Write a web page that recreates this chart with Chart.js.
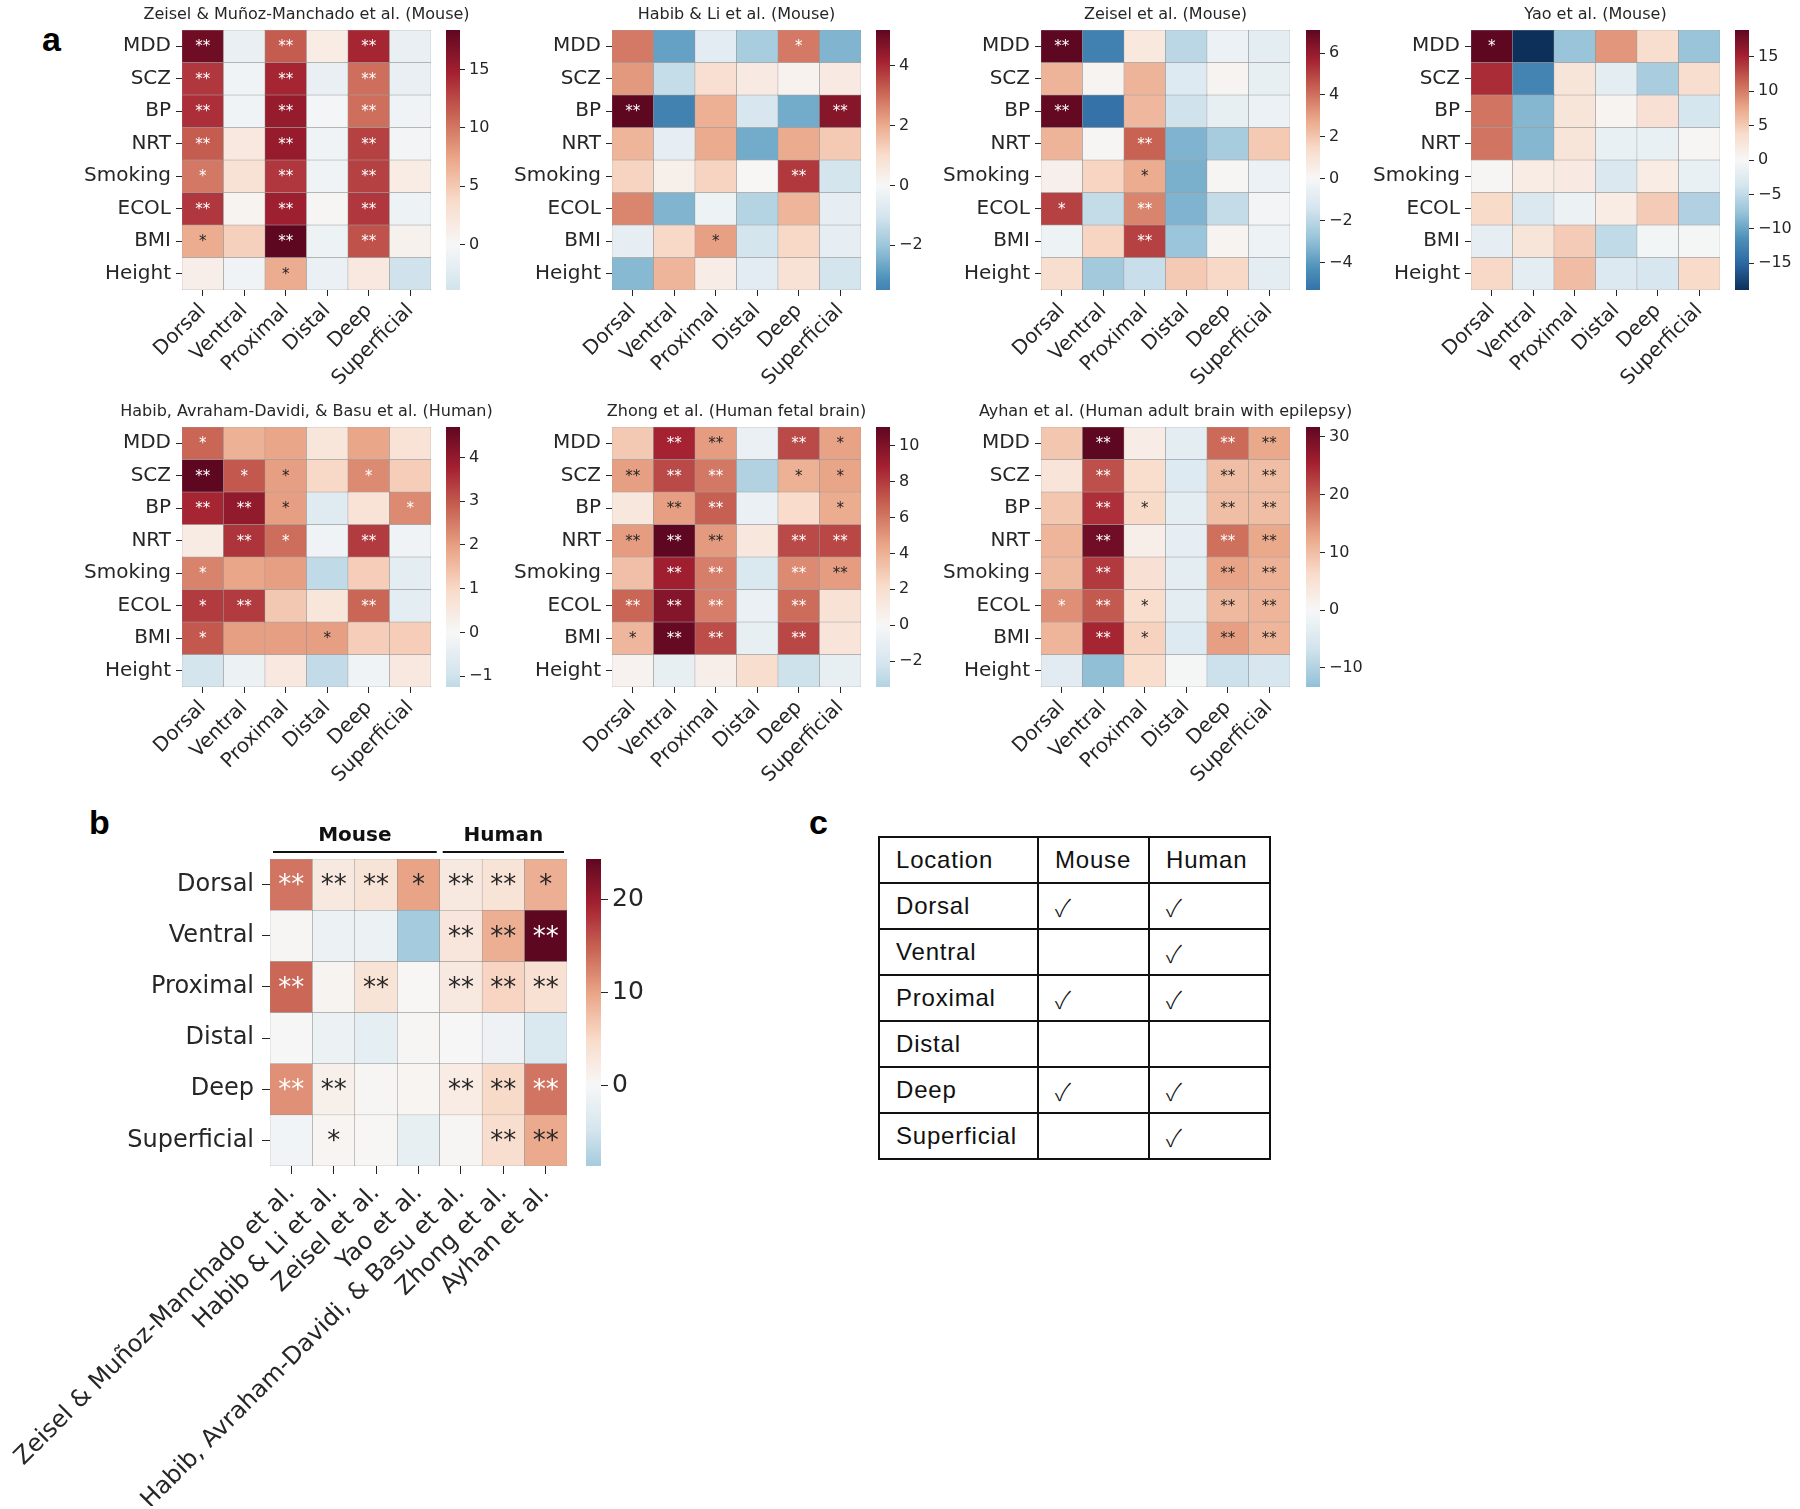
<!DOCTYPE html>
<html>
<head>
<meta charset="utf-8">
<script src="https://cdn.jsdelivr.net/npm/chart.js@4.4.1/dist/chart.umd.min.js"></script>
<style>
  html, body { margin: 0; padding: 0; background: #fff; }
  body { width: 1800px; height: 1509px; position: relative; overflow: hidden; }
  canvas { position: absolute; }
  .letter { position: absolute; font-family: 'Liberation Sans', Arial, sans-serif; font-weight: bold; font-size: 34px; line-height: 1; color: #000; }
  #locTable { position: absolute; left: 878px; top: 836px; border-collapse: collapse; font-family: 'Liberation Sans', Arial, sans-serif; font-size: 24px; letter-spacing: 0.8px; color: #111; }
  #locTable td { border: 2px solid #111; height: 44px; padding: 0 0 0 16px; vertical-align: middle; }
  #locTable .chk { font-family: 'Noto Sans CJK JP', 'DejaVu Sans', sans-serif; font-weight: 300; font-size: 24px; letter-spacing: 0; }
</style>
</head>
<body>
<div class="letter" style="left:42px; top:22px;">a</div>
<div class="letter" style="left:89px; top:805px;">b</div>
<div class="letter" style="left:809px; top:805px;">c</div>
<table id="locTable"></table>
<script>
// ---- data ----
const traits = ['MDD', 'SCZ', 'BP', 'NRT', 'Smoking', 'ECOL', 'BMI', 'Height'];
const locations = ['Dorsal', 'Ventral', 'Proximal', 'Distal', 'Deep', 'Superficial'];

// panel a, one matrix per dataset (rows = traits, cols = locations)
const zeiselMMValues = [
    [17.5, -1.5, 11.5, 1.5, 14.5, -1.5],
    [13.5, -0.8, 14.5, -1.5, 10.5, -1.5],
    [14.0, -0.8, 15.5, -0.3, 10.5, -0.8],
    [11.5, 2.0, 15.5, -0.8, 13.0, -0.5],
    [10.0, 2.8, 13.5, -0.8, 13.0, 1.5],
    [13.5, 0.5, 15.0, 0.3, 13.5, -1.0],
    [7.0, 4.5, 18.4, -1.0, 12.0, 0.8],
    [1.2, -0.8, 7.0, -1.3, 2.0, -3.9]
];
const zeiselMMStars = [
    ['**', '', '**', '', '**', ''],
    ['**', '', '**', '', '**', ''],
    ['**', '', '**', '', '**', ''],
    ['**', '', '**', '', '**', ''],
    ['*', '', '**', '', '**', ''],
    ['**', '', '**', '', '**', ''],
    ['*', '', '**', '', '**', ''],
    ['', '', '*', '', '', '']
];

const habibLiValues = [
    [2.8, -2.8, -0.6, -1.8, 2.8, -2.4],
    [2.3, -1.3, 0.9, 0.5, 0.2, 0.5],
    [5.2, -3.5, 1.9, -0.9, -2.6, 4.6],
    [1.8, -0.5, 2.0, -2.6, 2.0, 1.4],
    [1.2, 0.3, 1.2, 0.05, 3.8, -1.0],
    [2.6, -2.4, -0.3, -1.6, 1.8, -0.5],
    [-0.5, 1.1, 2.2, -1.0, 1.1, -0.5],
    [-2.3, 1.8, 0.4, -0.6, 0.8, -1.0]
];
const habibLiStars = [
    ['', '', '', '', '*', ''],
    ['', '', '', '', '', ''],
    ['**', '', '', '', '', '**'],
    ['', '', '', '', '', ''],
    ['', '', '', '', '**', ''],
    ['', '', '', '', '', ''],
    ['', '', '*', '', '', ''],
    ['', '', '', '', '', '']
];

const zeiselValues = [
    [7.1, -4.8, 0.8, -2.0, -0.5, -0.8],
    [2.5, 0.2, 2.5, -1.0, 0.2, -0.6],
    [7.0, -5.3, 2.4, -1.5, -0.6, -0.5],
    [2.5, 0.1, 4.3, -3.3, -2.5, 1.9],
    [0.4, 1.6, 2.7, -3.4, 0.1, -0.5],
    [5.0, -1.8, 3.6, -3.3, -1.8, -0.2],
    [-0.4, 1.6, 5.0, -2.8, 0.2, -0.4],
    [1.3, -2.6, -1.7, 1.9, 1.5, -0.8]
];
const zeiselStars = [
    ['**', '', '', '', '', ''],
    ['', '', '', '', '', ''],
    ['**', '', '', '', '', ''],
    ['', '', '**', '', '', ''],
    ['', '', '*', '', '', ''],
    ['*', '', '**', '', '', ''],
    ['', '', '**', '', '', ''],
    ['', '', '', '', '', '']
];

const yaoValues = [
    [18.9, -18.9, -7.5, 8.5, 3.5, -7.5],
    [14.5, -12.5, 2.5, -2.0, -6.5, 3.5],
    [10.5, -8.5, 2.5, 0.5, 3.0, -3.5],
    [10.5, -8.5, 2.5, -1.5, -1.5, 0.3],
    [0.3, 1.5, 1.8, -3.0, 1.5, -1.5],
    [3.8, -3.0, -1.2, 1.5, 5.0, -6.0],
    [-1.8, 2.5, 5.0, -5.0, -0.5, -0.3],
    [4.0, -2.0, 6.0, -2.8, -3.3, 3.8]
];
const yaoStars = [
    ['*', '', '', '', '', ''],
    ['', '', '', '', '', ''],
    ['', '', '', '', '', ''],
    ['', '', '', '', '', ''],
    ['', '', '', '', '', ''],
    ['', '', '', '', '', ''],
    ['', '', '', '', '', ''],
    ['', '', '', '', '', '']
];

const habibADValues = [
    [2.8, 1.7, 1.9, 0.6, 1.9, 0.7],
    [4.7, 3.0, 2.0, 1.0, 2.3, 1.2],
    [3.7, 4.0, 2.0, -0.6, 0.7, 2.3],
    [0.4, 3.5, 2.7, -0.2, 3.4, -0.2],
    [2.4, 1.9, 2.0, -1.25, 1.2, -0.5],
    [3.4, 3.4, 1.3, 0.6, 2.8, -0.5],
    [3.0, 2.0, 2.0, 2.0, 1.2, 1.2],
    [-0.9, -0.3, 0.5, -1.2, -0.2, 0.5]
];
const habibADStars = [
    ['*', '', '', '', '', ''],
    ['**', '*', '*', '', '*', ''],
    ['**', '**', '*', '', '', '*'],
    ['', '**', '*', '', '**', ''],
    ['*', '', '', '', '', ''],
    ['*', '**', '', '', '**', ''],
    ['*', '', '', '*', '', ''],
    ['', '', '', '', '', '']
];

const zhongValues = [
    [3.0, 8.8, 4.8, -0.8, 7.5, 4.6],
    [4.7, 7.5, 6.0, -3.45, 4.0, 4.5],
    [1.3, 4.7, 6.8, -0.8, 2.2, 4.2],
    [4.8, 11.05, 4.85, 1.3, 7.5, 7.6],
    [3.4, 9.0, 5.8, -1.8, 5.4, 4.8],
    [6.6, 9.8, 5.8, -0.8, 6.4, 1.7],
    [3.8, 10.8, 7.4, -1.0, 7.6, 1.5],
    [0.4, -1.0, 0.7, 2.0, -2.4, -1.0]
];
const zhongStars = [
    ['', '**', '**', '', '**', '*'],
    ['**', '**', '**', '', '*', '*'],
    ['', '**', '**', '', '', '*'],
    ['**', '**', '**', '', '**', '**'],
    ['', '**', '**', '', '**', '**'],
    ['**', '**', '**', '', '**', ''],
    ['*', '**', '**', '', '**', ''],
    ['', '', '', '', '', '']
];

const ayhanValues = [
    [9.0, 31.7, 2.5, -3.5, 18.5, 12.5],
    [4.5, 21.0, 6.0, -4.5, 10.0, 10.0],
    [9.0, 24.0, 6.5, -3.5, 10.0, 10.0],
    [11.0, 30.0, 2.0, -3.0, 18.0, 12.5],
    [10.5, 23.0, 5.0, -3.5, 13.0, 11.5],
    [15.0, 20.0, 6.0, -3.5, 10.5, 11.0],
    [11.0, 25.0, 7.5, -4.5, 13.5, 11.0],
    [-4.0, -13.3, 6.0, -0.5, -7.0, -5.5]
];
const ayhanStars = [
    ['', '**', '', '', '**', '**'],
    ['', '**', '', '', '**', '**'],
    ['', '**', '*', '', '**', '**'],
    ['', '**', '', '', '**', '**'],
    ['', '**', '', '', '**', '**'],
    ['*', '**', '*', '', '**', '**'],
    ['', '**', '*', '', '**', '**'],
    ['', '', '', '', '', '']
];

// panel b (rows = locations, cols = datasets)
const datasetNames = [
    'Zeisel & Muñoz-Manchado et al.',
    'Habib & Li et al.',
    'Zeisel et al.',
    'Yao et al.',
    'Habib, Avraham-Davidi, & Basu et al.',
    'Zhong et al.',
    'Ayhan et al.'
];
const datasetSpecies = ['Mouse', 'Mouse', 'Mouse', 'Mouse', 'Human', 'Human', 'Human'];
const summaryValues = [
    [13.5, 2.5, 3.5, 10.0, 2.5, 3.5, 9.0],
    [0.3, -1.5, -1.5, -8.7, 3.0, 9.0, 24.4],
    [14.5, 0.8, 3.5, 0.2, 2.5, 5.5, 4.0],
    [0.1, -1.5, -2.5, 0.3, 0.1, -1.2, -4.0],
    [11.5, 1.5, 0.3, 0.5, 2.0, 5.0, 13.5],
    [-0.8, 0.5, 0.2, -2.2, 0.3, 4.5, 9.5]
];
const summaryStars = [
    ['**', '**', '**', '*', '**', '**', '*'],
    ['', '', '', '', '**', '**', '**'],
    ['**', '', '**', '', '**', '**', '**'],
    ['', '', '', '', '', '', ''],
    ['**', '**', '', '', '**', '**', '**'],
    ['', '*', '', '', '', '**', '**']
];

// panel c
const mouseHits = [true, false, true, false, true, false];
const humanHits = [true, true, true, false, true, true];

// ---- colour map (RdBu_r, centred on 0 like seaborn center=0) ----
const RDBU_R = ['#053061', '#2166ac', '#4393c3', '#92c5de', '#d1e5f0', '#f7f7f7',
                '#fddbc7', '#f4a582', '#d6604d', '#b2182b', '#67001f'];
const RDBU_RGB = RDBU_R.map(h => [1, 3, 5].map(i => parseInt(h.slice(i, i + 2), 16)));

function cmapRgb(v, vrange) {
    let t = (v + vrange) / (2 * vrange);
    t = Math.min(1, Math.max(0, t)) * 10;
    const i = Math.min(9, Math.floor(t));
    const f = t - i;
    const a = RDBU_RGB[i], b = RDBU_RGB[i + 1];
    return a.map((c, k) => c + (b[k] - c) * f);
}
// the printed figure is a little washed out, so pull colours slightly toward grey
function shown(c) {
    const m = (c[0] + c[1] + c[2]) / 3;
    const d = c.map(x => Math.round(x * 0.85 + m * 0.15));
    return 'rgb(' + d[0] + ', ' + d[1] + ', ' + d[2] + ')';
}
function luminance(c) {
    const lin = c.map(x => {
        x = x / 255;
        return x <= 0.03928 ? x / 12.92 : Math.pow((x + 0.055) / 1.055, 2.4);
    });
    return 0.2126 * lin[0] + 0.7152 * lin[1] + 0.0722 * lin[2];
}
function minusSign(v) {
    return v < 0 ? '\u2212' + Math.abs(v) : String(Math.abs(v));
}

Chart.defaults.font.family = "'DejaVu Sans', sans-serif";
Chart.defaults.color = '#262626';

// ---- plugins ----
const panelTitle = {
    id: 'panelTitle',
    afterDraw(chart, args, opts) {
        if (!opts.text) return;
        const area = chart.chartArea;
        const ctx = chart.ctx;
        ctx.save();
        ctx.font = opts.font;
        ctx.fillStyle = '#262626';
        ctx.textAlign = 'center';
        ctx.textBaseline = 'middle';
        ctx.fillText(opts.text, (area.left + area.right) / 2, area.top - opts.offset);
        ctx.restore();
    }
};

const starLabels = {
    id: 'starLabels',
    afterDatasetsDraw(chart, args, opts) {
        if (!opts.stars) return;
        const ctx = chart.ctx;
        ctx.save();
        ctx.font = opts.font;
        ctx.textAlign = 'center';
        ctx.textBaseline = 'middle';
        opts.stars.forEach((row, i) => {
            const meta = chart.getDatasetMeta(i);
            row.forEach((s, j) => {
                if (!s) return;
                const bar = meta.data[j];
                const c = cmapRgb(opts.values[i][j], opts.vrange);
                ctx.fillStyle = luminance(c) > 0.408 ? '#262626' : '#ffffff';
                ctx.fillText(s, bar.x, (bar.y + bar.base) / 2 + opts.dy);
            });
        });
        ctx.restore();
    }
};

// Mouse / Human brackets above panel b
const groupBrackets = {
    id: 'groupBrackets',
    afterDraw(chart, args, opts) {
        if (!opts.groups) return;
        const x = chart.scales.x;
        const top = chart.chartArea.top;
        const half = (x.getPixelForTick(1) - x.getPixelForTick(0)) / 2;
        const ctx = chart.ctx;
        let start = 0;
        ctx.save();
        for (let i = 1; i <= opts.groups.length; i++) {
            if (i < opts.groups.length && opts.groups[i] === opts.groups[start]) continue;
            const x0 = x.getPixelForTick(start) - half + 3;
            const x1 = x.getPixelForTick(i - 1) + half - 3;
            ctx.strokeStyle = '#111';
            ctx.lineWidth = 2;
            ctx.beginPath();
            ctx.moveTo(x0, top - 7);
            ctx.lineTo(x1, top - 7);
            ctx.stroke();
            ctx.fillStyle = '#111';
            ctx.font = "bold 20px 'DejaVu Sans'";
            ctx.textAlign = 'center';
            ctx.textBaseline = 'middle';
            ctx.fillText(opts.groups[start], (x0 + x1) / 2, top - 23);
            start = i;
        }
        ctx.restore();
    }
};

function addCanvas(left, top, width, height) {
    const c = document.createElement('canvas');
    c.width = width;
    c.height = height;
    c.style.left = left + 'px';
    c.style.top = top + 'px';
    c.style.width = width + 'px';
    c.style.height = height + 'px';
    document.body.appendChild(c);
    return c;
}

function drawHeatmap(p) {
    const all = p.values.flat();
    const vmin = Math.min(...all);
    const vmax = Math.max(...all);
    const vrange = Math.max(Math.abs(vmin), Math.abs(vmax));

    const canvas = addCanvas(p.left - p.yw - p.padLeft, p.top - p.padTop,
        p.padLeft + p.yw + p.width + p.padRight, p.padTop + p.height + p.xh);

    new Chart(canvas, {
        type: 'bar',
        data: {
            labels: p.cols,
            datasets: p.rows.map((r, i) => ({
                label: r,
                data: p.cols.map(() => 1),
                backgroundColor: p.values[i].map(v => shown(cmapRgb(v, vrange))),
                borderColor: '#8c8c8c',
                borderWidth: 0.5,
                borderSkipped: false,
                barPercentage: 1,
                categoryPercentage: 1
            }))
        },
        options: {
            responsive: false,
            animation: false,
            events: [],
            layout: { padding: { top: p.padTop, right: p.padRight, left: p.padLeft, bottom: 0 } },
            plugins: {
                legend: { display: false },
                tooltip: { enabled: false },
                panelTitle: { text: p.title, font: "16px 'DejaVu Sans'", offset: 15 },
                starLabels: { stars: p.stars, values: p.values, vrange: vrange, font: p.starFont, dy: p.starDy },
                groupBrackets: { groups: p.groups }
            },
            scales: {
                x: {
                    stacked: true,
                    offset: true,
                    grid: { offset: false, drawOnChartArea: false, tickLength: p.tickLen, color: '#262626' },
                    border: { display: false },
                    ticks: { minRotation: 45, maxRotation: 45, autoSkip: false, padding: p.xPad, color: '#262626', font: { size: p.labelSize } },
                    afterFit: s => { s.height = p.xh; s.paddingLeft = 0; s.paddingRight = 0; }
                },
                y: {
                    type: 'linear',
                    stacked: true,
                    min: 0,
                    max: p.rows.length,
                    reverse: true,
                    afterBuildTicks: s => { s.ticks = p.rows.map((_, i) => ({ value: i + 0.5 })); },
                    grid: { drawOnChartArea: false, tickLength: p.tickLen, color: '#262626' },
                    border: { display: false },
                    ticks: { autoSkip: false, padding: p.yPad, color: '#262626', font: { size: p.labelSize }, callback: (v, i) => p.rows[i] },
                    afterFit: s => { s.width = p.yw; s.paddingTop = 0; s.paddingBottom = 0; }
                }
            }
        },
        plugins: [panelTitle, starLabels, groupBrackets]
    });

    drawColorbar(p, vmin, vmax, vrange);
}

function drawColorbar(p, vmin, vmax, vrange) {
    const axisW = 75;
    const canvas = addCanvas(p.cbLeft, p.top - 14, p.cbWidth + axisW, p.height + 28);
    new Chart(canvas, {
        type: 'bar',
        data: {
            labels: [''],
            datasets: [{
                data: [[vmin, vmax]],
                backgroundColor: c => {
                    const area = c.chart.chartArea;
                    if (!area) return '#ffffff';
                    const g = c.chart.ctx.createLinearGradient(0, area.bottom, 0, area.top);
                    for (let k = 0; k <= 60; k++) {
                        g.addColorStop(k / 60, shown(cmapRgb(vmin + (vmax - vmin) * k / 60, vrange)));
                    }
                    return g;
                },
                borderWidth: 0,
                barPercentage: 1,
                categoryPercentage: 1
            }]
        },
        options: {
            responsive: false,
            animation: false,
            events: [],
            layout: { padding: { top: 14, bottom: 14, left: 0, right: 0 } },
            plugins: { legend: { display: false }, tooltip: { enabled: false } },
            scales: {
                x: { display: false },
                y: {
                    position: 'right',
                    min: vmin,
                    max: vmax,
                    afterBuildTicks: s => {
                        const ticks = [];
                        for (let k = Math.ceil(vmin / p.step); k * p.step <= vmax; k++) ticks.push({ value: k * p.step });
                        s.ticks = ticks;
                    },
                    grid: { drawOnChartArea: false, tickLength: p.cbTickLen, color: '#262626' },
                    border: { display: false },
                    ticks: { padding: 4, color: '#262626', font: { size: p.cbFontSize }, callback: v => minusSign(v) },
                    afterFit: s => { s.width = axisW; s.paddingTop = 0; s.paddingBottom = 0; }
                }
            }
        }
    });
}

// ---- panel a ----
const smallPanel = {
    rows: traits, cols: locations, width: 249, height: 260, cbWidth: 14,
    yw: 170, padLeft: 0, padTop: 30, padRight: 90, xh: 110,
    tickLen: 6, xPad: 3, yPad: 5, labelSize: 20, starFont: "15px 'DejaVu Sans'", starDy: 1,
    cbTickLen: 5, cbFontSize: 16
};

[
    { title: 'Zeisel & Muñoz-Manchado et al. (Mouse)', values: zeiselMMValues, stars: zeiselMMStars, left: 182, top: 30, cbLeft: 446, step: 5 },
    { title: 'Habib & Li et al. (Mouse)', values: habibLiValues, stars: habibLiStars, left: 612, top: 30, cbLeft: 876, step: 2 },
    { title: 'Zeisel et al. (Mouse)', values: zeiselValues, stars: zeiselStars, left: 1041, top: 30, cbLeft: 1306, step: 2 },
    { title: 'Yao et al. (Mouse)', values: yaoValues, stars: yaoStars, left: 1471, top: 30, cbLeft: 1735, step: 5 },
    { title: 'Habib, Avraham-Davidi, & Basu et al. (Human)', values: habibADValues, stars: habibADStars, left: 182, top: 427, cbLeft: 446, step: 1 },
    { title: 'Zhong et al. (Human fetal brain)', values: zhongValues, stars: zhongStars, left: 612, top: 427, cbLeft: 876, step: 2 },
    { title: 'Ayhan et al. (Human adult brain with epilepsy)', values: ayhanValues, stars: ayhanStars, left: 1041, top: 427, cbLeft: 1306, step: 10 }
].forEach(p => drawHeatmap(Object.assign({}, smallPanel, p)));

// ---- panel b ----
drawHeatmap({
    rows: locations, cols: datasetNames, values: summaryValues, stars: summaryStars, groups: datasetSpecies,
    left: 270, top: 859, width: 297, height: 307, cbLeft: 586, cbWidth: 15, step: 10,
    yw: 170, padLeft: 100, padTop: 60, padRight: 40, xh: 340,
    tickLen: 8, xPad: 5, yPad: 8, labelSize: 24, starFont: "26px 'DejaVu Sans'", starDy: 2,
    cbTickLen: 7, cbFontSize: 25
});

// ---- panel c ----
const table = document.getElementById('locTable');
const colWidths = [159, 111, 121];
[['Location', 'Mouse', 'Human']].concat(
    locations.map((loc, i) => [loc, mouseHits[i] ? '\u2713' : '', humanHits[i] ? '\u2713' : ''])
).forEach((cells, r) => {
    const tr = document.createElement('tr');
    cells.forEach((txt, k) => {
        const td = document.createElement('td');
        td.textContent = txt;
        td.style.width = (colWidths[k] - 18) + 'px';
        if (r > 0 && k > 0) td.className = 'chk';
        tr.appendChild(td);
    });
    table.appendChild(tr);
});
</script>
</body>
</html>
